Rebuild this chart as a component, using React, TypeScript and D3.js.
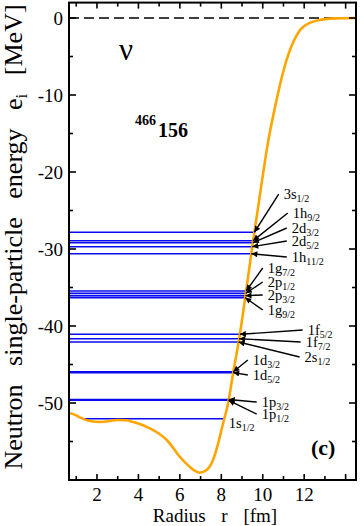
import React from "react";
import * as d3 from "d3";

// Potential curve
const radius = [0.65, 1.0, 1.2, 1.66, 2.14, 2.63, 2.96, 3.4, 3.74, 4.2, 4.55, 5.0, 5.37, 6.0, 6.32, 6.72, 6.96, 7.29, 7.6, 7.85, 8.09, 8.33, 8.57, 8.89, 9.17, 9.52, 10.0, 10.2, 10.67, 11.15, 11.8, 12.3, 12.75, 13.5, 14.5];
const potential = [-51.3, -51.6, -51.9, -52.34, -52.47, -52.34, -52.2, -52.25, -52.47, -52.85, -53.3, -54.0, -54.8, -57.0, -57.9, -58.8, -59.05, -58.7, -57.4, -55.2, -52.6, -50.0, -46.1, -41.2, -36.0, -29.2, -20.5, -17.0, -10.6, -5.45, -1.56, -0.6, -0.26, -0.05, 0];

// Single-particle levels
const levelNames = ["3s", "1h", "2d", "2d", "1h", "1g", "2p", "2p", "1g", "1f", "1f", "2s", "1d", "1d", "1p", "1p", "1s"];
const levelJ = ["1/2", "9/2", "3/2", "5/2", "11/2", "7/2", "1/2", "3/2", "9/2", "5/2", "7/2", "1/2", "3/2", "5/2", "3/2", "1/2", "1/2"];
const levelEnergies = [-27.83, -28.92, -29.18, -29.7, -30.61, -35.45, -35.75, -36.06, -36.32, -41.08, -41.65, -42.08, -45.95, -46.05, -49.55, -49.65, -52.04];
// label anchor in data units (r, e)
const labelR = [11.01, 11.45, 11.4, 11.4, 11.4, 10.24, 10.24, 10.24, 10.24, 12.17, 12.07, 12.02, 9.52, 9.52, 9.95, 9.95, 8.36];
const labelE = [-23.51, -25.97, -27.92, -29.61, -31.69, -33.12, -34.94, -36.62, -38.57, -41.17, -42.73, -44.68, -45.06, -47.01, -50.52, -52.08, -53.25];
const labelArrow = [true, true, true, true, true, true, true, true, true, true, true, true, true, true, true, true, false];

const xTicks = [2, 4, 6, 8, 10, 12];
const yTicks = [0, -10, -20, -30, -40, -50];
const xDomain = [0.65, 14.5];
const yDomain = [-60, 2];

const W = 362;
const H = 526;
const M = { left: 69, right: 356, top: 2.6, bottom: 480 };
const FONT = "Liberation Serif, Times New Roman, Times, serif";

function innerStart(E: number): number {
  if (potential[0] < E) return radius[0];
  for (let i = 0; i < radius.length - 1; i++) {
    if (potential[i] >= E && potential[i + 1] < E) {
      const t = (potential[i] - E) / (potential[i] - potential[i + 1]);
      return radius[i] + t * (radius[i + 1] - radius[i]);
    }
  }
  return radius[0];
}
function outerEnd(E: number): number {
  for (let i = radius.length - 2; i >= 0; i--) {
    if (potential[i] < E && potential[i + 1] >= E) {
      const t = (E - potential[i]) / (potential[i + 1] - potential[i]);
      return radius[i] + t * (radius[i + 1] - radius[i]);
    }
  }
  return radius[radius.length - 1];
}

export default function App() {
  const x = d3.scaleLinear().domain(xDomain).range([M.left, M.right]);
  const y = d3.scaleLinear().domain(yDomain).range([M.bottom, M.top]);
  const pts = radius.map((r, i) => [r, potential[i]] as [number, number]);
  const line = d3
    .line<[number, number]>()
    .x((d) => x(d[0]))
    .y((d) => y(d[1]))
    .curve(d3.curveMonotoneX);

  const xMinor = d3.range(1, 15, 1);
  const yMinor = d3.range(0, -60, -5);

  return (
    <svg width={W} height={H} style={{ position: "absolute", left: 0, top: 0, background: "#fff", fontFamily: FONT }}>
      <defs>
        <marker id="arr" viewBox="0 0 10 10" refX="10" refY="5" markerWidth="7" markerHeight="6" markerUnits="userSpaceOnUse" orient="auto">
          <path d="M0,0 L10,5 L0,10 z" fill="#000" />
        </marker>
        <clipPath id="plot">
          <rect x={M.left} y={M.top} width={M.right - M.left} height={M.bottom - M.top} />
        </clipPath>
      </defs>

      {/* levels */}
      <g clipPath="url(#plot)">
        {levelEnergies.map((E, i) => (
          <line key={i} x1={x(innerStart(E))} x2={x(outerEnd(E))} y1={y(E)} y2={y(E)} stroke="#0a0aee" strokeWidth={1.6} />
        ))}
        <line x1={M.left} x2={M.right} y1={y(0)} y2={y(0)} stroke="#000" strokeWidth={1.6} strokeDasharray="10 5" />
        <path d={line(pts) || ""} fill="none" stroke="#FFA500" strokeWidth={2.6} />
      </g>

      {/* arrows & labels */}
      {levelEnergies.map((E, i) => {
        const lx = x(labelR[i]);
        const ly = y(labelE[i]);
        return (
          <g key={i}>
            {labelArrow[i] && (
              <line x1={lx - 5} y1={ly - 5} x2={x(outerEnd(E))} y2={y(E)} stroke="#000" strokeWidth={1.4} markerEnd="url(#arr)" />
            )}
            <text x={lx} y={ly} fontSize={14.5} fill="#000">
              {levelNames[i]}
              <tspan fontSize={10} dy={3}>{levelJ[i]}</tspan>
            </text>
          </g>
        );
      })}

      {/* ticks */}
      {xMinor.map((t) => {
        const len = t % 2 === 0 ? 6 : 4;
        return (
          <g key={"xt" + t}>
            <line x1={x(t)} x2={x(t)} y1={M.bottom} y2={M.bottom - len} stroke="#000" strokeWidth={1.6} />
            <line x1={x(t)} x2={x(t)} y1={M.top} y2={M.top + len} stroke="#000" strokeWidth={1.6} />
          </g>
        );
      })}
      {yMinor.map((t) => {
        const len = t % 10 === 0 ? 7 : 4;
        return (
          <g key={"yt" + t}>
            <line x1={M.left} x2={M.left + len} y1={y(t)} y2={y(t)} stroke="#000" strokeWidth={1.6} />
            <line x1={M.right} x2={M.right - len} y1={y(t)} y2={y(t)} stroke="#000" strokeWidth={1.6} />
          </g>
        );
      })}
      {xTicks.map((t) => (
        <text key={"xl" + t} x={x(t)} y={501} fontSize={19} textAnchor="middle" fill="#000">
          {t}
        </text>
      ))}
      {yTicks.map((t) => (
        <text key={"yl" + t} x={63} y={y(t)} dy="0.35em" fontSize={19} textAnchor="end" fill="#000">
          {t}
        </text>
      ))}

      {/* frame */}
      <rect x={M.left} y={M.top} width={M.right - M.left} height={M.bottom - M.top} fill="none" stroke="#000" strokeWidth={2} />

      {/* axis titles */}
      <text x={215} y={522} fontSize={19} textAnchor="middle" wordSpacing={11} fill="#000">
        Radius r [fm]
      </text>
      <text transform="translate(22,237) rotate(-90)" fontSize={26} textAnchor="middle" wordSpacing={12} fill="#000">
        Neutron single-particle energy e<tspan fontSize={17} dy={5}>i</tspan>
        <tspan dy={-5}> [MeV]</tspan>
      </text>

      {/* annotations */}
      <text x={126} y={60} fontSize={31} textAnchor="middle" fill="#000">ν</text>
      <text x={135} y={125} fontSize={14} fontWeight="bold" fill="#000">466</text>
      <text x={158} y={137} fontSize={20} fontWeight="bold" fill="#000">156</text>
      <text x={311} y={455} fontSize={22} fontWeight="bold" fill="#000">(c)</text>
    </svg>
  );
}
